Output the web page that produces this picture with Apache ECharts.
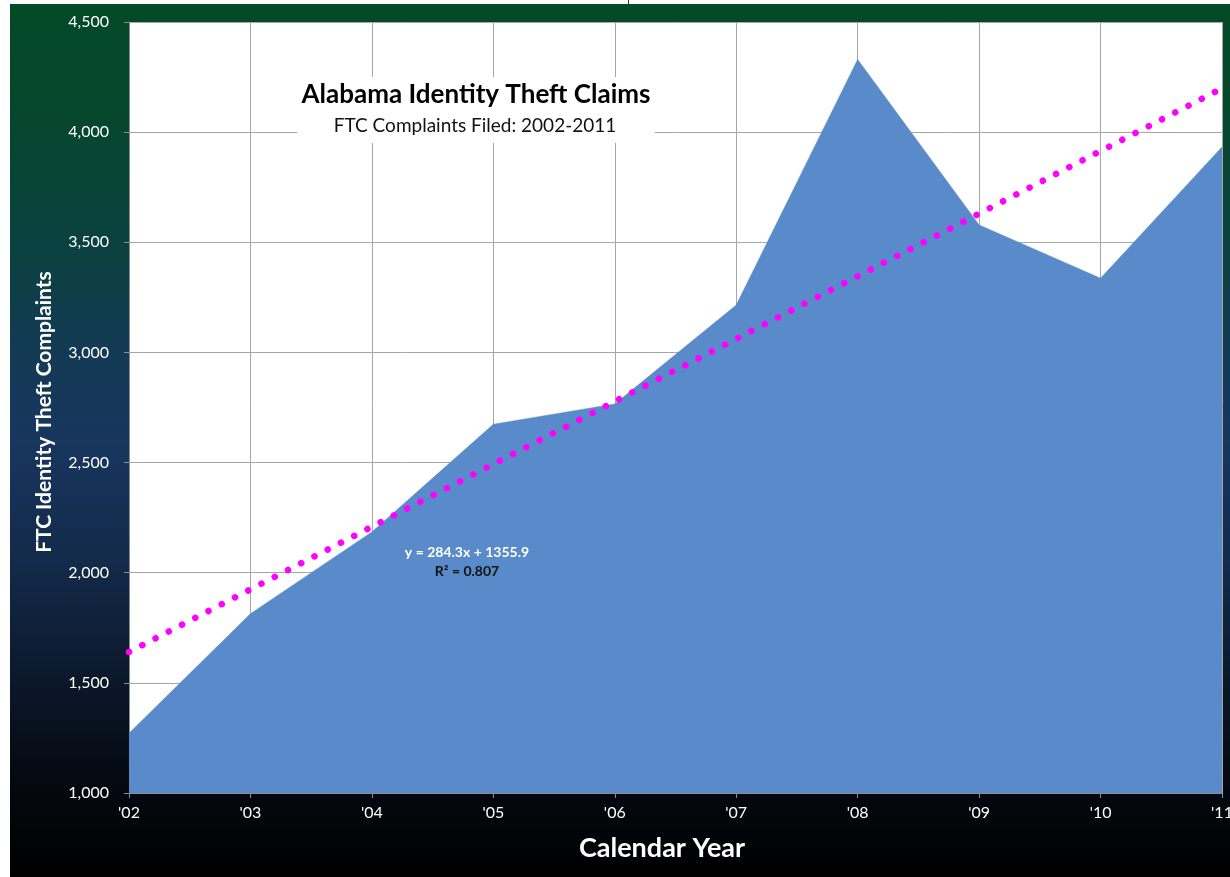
<!DOCTYPE html>
<html>
<head>
<meta charset="utf-8">
<title>Alabama Identity Theft Claims</title>
<script src="https://cdn.jsdelivr.net/npm/echarts@6/dist/echarts.min.js"></script>
<style>
  html, body { margin: 0; padding: 0; background: #fff; }
  #chart {
    width: 1230px; height: 877px;
    background:
      linear-gradient(to bottom, #034a26 0%, #05472c 12%, #0b4140 28%, #133a55 40%, #18365e 50%, #132a4a 64%, #0c1a2e 76%, #050a12 88%, #000 100%) no-repeat 10px 4px / 1220px 873px,
      #fff;
  }
</style>
</head>
<body>
<div id="chart"></div>
<script>
// Calendar years (2002-2011) shown as two-digit labels
const years = ["'02", "'03", "'04", "'05", "'06", "'07", "'08", "'09", "'10", "'11"];

// FTC identity theft complaints filed in Alabama, per year
const complaints = [1271, 1814, 2185, 2674, 2766, 3215, 4330, 3579, 3337, 3933];

// Linear trend fitted over the year index (1 = 2002)
const TREND_SLOPE = 284.3;
const TREND_INTERCEPT = 1355.9;
const TREND_R2 = 0.807;
const trend = years.map((_, i) => +(TREND_INTERCEPT + TREND_SLOPE * (i + 1)).toFixed(1));

const FONT = 'Lato, "Open Sans", sans-serif';

const chart = echarts.init(document.getElementById('chart'), null, { renderer: 'canvas' });

chart.setOption({
  backgroundColor: 'transparent',
  animation: false,
  grid: {
    left: 129, right: 8, top: 22, bottom: 84,
    outerBoundsMode: 'none',
    containLabel: false,
    show: true, backgroundColor: '#ffffff', borderWidth: 0
  },
  xAxis: {
    type: 'category',
    data: years,
    boundaryGap: false,
    axisLine: { lineStyle: { color: '#8c8c8c', width: 1 } },
    axisTick: { show: true, length: 5, alignWithLabel: true, lineStyle: { color: '#8c8c8c' } },
    axisLabel: { color: '#ffffff', fontFamily: FONT, fontSize: 16, margin: 12, hideOverlap: false },
    splitLine: { show: true, lineStyle: { color: '#a6a6a6', width: 1 } }
  },
  yAxis: {
    type: 'value',
    min: 1000, max: 4500, interval: 500,
    axisLine: { show: true, lineStyle: { color: '#8c8c8c', width: 1 } },
    axisTick: { show: true, length: 5, lineStyle: { color: '#8c8c8c' } },
    axisLabel: {
      color: '#ffffff', fontFamily: FONT, fontSize: 16, margin: 20,
      formatter: v => v.toLocaleString('en-US')
    },
    splitLine: { show: true, lineStyle: { color: '#a6a6a6', width: 1 } }
  },
  series: [
    {
      name: 'Complaints',
      type: 'line',
      data: complaints,
      symbol: 'none',
      lineStyle: { color: '#598bca', width: 0.5 },
      areaStyle: { color: '#598bca', opacity: 1 },
      z: 2
    },
    {
      name: 'Linear trend',
      type: 'line',
      data: trend,
      symbol: 'none',
      lineStyle: { color: '#ff00ff', width: 6.5, type: [0.1, 14.8], cap: 'round' },
      z: 3
    }
  ],
  graphic: [
    { type: 'line', shape: { x1: 628.5, y1: 0, x2: 628.5, y2: 4 }, style: { stroke: '#333', lineWidth: 1 } },
    {
      type: 'rect', z: 50,
      shape: { x: 297, y: 77, width: 358, height: 66 },
      style: { fill: '#ffffff' }
    },
    {
      type: 'text', z: 51, x: 476, y: 95,
      style: {
        text: 'Alabama Identity Theft Claims', fill: '#000',
        font: 'bold 26px ' + FONT, align: 'center', verticalAlign: 'middle'
      }
    },
    {
      type: 'text', z: 51, x: 475, y: 126,
      style: {
        text: 'FTC Complaints Filed: 2002-2011', fill: '#111',
        font: '19px ' + FONT, align: 'center', verticalAlign: 'middle'
      }
    },
    {
      type: 'text', z: 51, x: 467, y: 552,
      style: {
        text: 'y = ' + TREND_SLOPE + 'x + ' + TREND_INTERCEPT, fill: '#ffffff',
        font: 'bold 14px ' + FONT, align: 'center', verticalAlign: 'middle'
      }
    },
    {
      type: 'text', z: 51, x: 467, y: 571,
      style: {
        text: 'R² = ' + TREND_R2, fill: '#111',
        font: 'bold 14px ' + FONT, align: 'center', verticalAlign: 'middle'
      }
    },
    {
      type: 'text', z: 51, x: 662, y: 848,
      style: {
        text: 'Calendar Year', fill: '#ffffff',
        font: 'bold 27px ' + FONT, align: 'center', verticalAlign: 'middle'
      }
    },
    {
      type: 'text', z: 51, x: 44, y: 412, rotation: Math.PI / 2,
      style: {
        text: 'FTC Identity Theft Complaints', fill: '#ffffff',
        font: 'bold 21px ' + FONT, align: 'center', verticalAlign: 'middle'
      }
    }
  ]
});
</script>
</body>
</html>
